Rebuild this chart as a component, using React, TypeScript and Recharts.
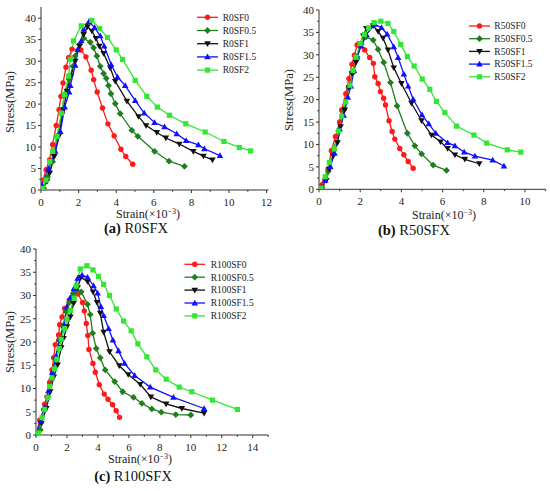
import React from 'react';
import { LineChart, Line, XAxis, YAxis } from 'recharts';

type Pt = [number, number];
type Shape = 'circle' | 'diamond' | 'down' | 'up' | 'square';

// ---- (a) R0SFX ----
const R0SF0: Pt[] = [[0,0],[0.1,2.3],[0.27,4.7],[0.45,7.0],[0.62,10.6],[0.81,15.0],[0.96,18.7],[1.06,21.8],[1.17,24.9],[1.33,28.6],[1.47,30.8],[1.65,32.8],[2.12,32.6],[2.39,31.0],[2.67,27.9],[2.8,25.7],[2.99,22.8],[3.27,19.1],[3.56,15.4],[3.89,12.6],[4.25,9.5],[4.51,7.8],[4.88,6.0]];
const R0SF05: Pt[] = [[0,0],[0.14,0.4],[0.35,3.0],[0.62,6.6],[0.85,12.5],[1.12,17.9],[1.24,22.2],[1.5,25.7],[1.7,28.8],[1.82,31.2],[2.05,33.9],[2.27,35.3],[2.62,34.4],[2.8,33.1],[2.97,31.2],[3.15,28.8],[3.33,27.1],[3.47,26.0],[3.59,24.3],[3.72,22.4],[3.95,20.1],[4.21,17.8],[4.83,13.9],[5.15,12.5],[6.04,9.0],[6.81,6.7],[7.63,5.5]];
const R0SF1: Pt[] = [[0,0],[0.32,2.0],[0.46,3.9],[0.71,7.8],[0.94,12.5],[1.2,18.7],[1.38,23.0],[1.59,26.5],[1.82,30.0],[2.05,33.5],[2.27,36.2],[2.48,38.0],[2.71,37.0],[2.92,35.3],[3.1,33.5],[3.33,31.8],[3.68,28.4],[3.95,25.3],[4.57,20.7],[5.19,17.1],[5.59,15.0],[6.16,13.4],[6.64,12.1],[7.36,10.7],[8.1,9.0],[8.64,7.9],[9.12,7.0]];
const R0SF15: Pt[] = [[0,0],[0.05,1.2],[0.4,5.0],[0.76,9.0],[1.03,13.6],[1.26,19.3],[1.5,22.8],[1.56,24.3],[1.82,29.0],[1.95,32.7],[2.14,34.7],[2.27,37.4],[2.55,39.2],[2.85,37.8],[3.15,35.9],[3.36,33.5],[3.73,29.2],[4.07,26.3],[4.48,24.3],[5.01,20.8],[5.49,17.9],[6.04,15.7],[6.57,14.7],[7.22,13.1],[7.72,11.5],[8.37,10.5],[8.69,9.6],[9.52,8.0]];
const R0SF2: Pt[] = [[0,0],[0.09,0.4],[0.27,2.3],[0.46,6.6],[0.62,9.0],[0.85,12.5],[1.08,17.9],[1.24,22.2],[1.47,26.5],[1.56,30.4],[1.73,34.7],[2.14,38.2],[2.7,39.5],[3.12,37.6],[3.54,35.5],[4.0,32.6],[4.34,30.4],[5.01,25.5],[5.63,21.8],[6.19,19.3],[6.83,17.4],[7.7,15.4],[8.73,13.5],[9.73,11.3],[10.55,9.9],[11.15,9.1]];

// ---- (b) R50SFX ----
const R50SF0: Pt[] = [[0,0],[0.15,1.0],[0.28,2.1],[0.44,4.5],[0.6,8.6],[0.8,11.8],[1.0,15.0],[1.1,17.7],[1.3,21.3],[1.45,24.7],[1.6,27.9],[1.72,29.9],[1.85,32.2],[2.22,31.1],[2.46,29.4],[2.64,28.1],[2.71,25.1],[2.87,23.6],[2.98,21.8],[3.14,20.3],[3.23,18.8],[3.4,15.3],[3.55,12.9],[3.68,11.2],[3.92,9.1],[4.12,7.7],[4.33,6.2],[4.57,4.7]];
const R50SF05: Pt[] = [[0,0],[0.15,0.4],[0.45,4.0],[0.7,8.8],[0.95,13.0],[1.2,17.8],[1.45,22.7],[1.65,26.0],[1.85,29.5],[2.05,32.4],[2.29,34.0],[2.63,33.3],[2.87,31.2],[3.14,28.3],[3.47,23.8],[3.79,18.6],[4.29,12.5],[4.65,9.7],[4.98,7.9],[5.54,5.4],[6.19,4.2]];
const R50SF1: Pt[] = [[0,0],[0.1,0.5],[0.35,2.0],[0.5,4.5],[0.7,7.5],[0.9,10.4],[1.05,14.0],[1.25,17.7],[1.45,22.7],[1.6,25.8],[1.8,28.3],[2.0,32.5],[2.15,34.2],[2.3,35.9],[2.63,36.5],[2.87,35.2],[3.11,33.7],[3.35,31.1],[3.63,27.1],[4.0,23.6],[4.49,19.2],[4.98,15.3],[5.46,12.1],[5.9,10.6],[6.24,9.1],[6.6,7.7],[7.08,6.7],[7.78,5.7]];
const R50SF15: Pt[] = [[0,0],[0.3,2.0],[0.55,5.0],[0.75,8.0],[1.0,13.5],[1.2,16.5],[1.4,20.5],[1.55,23.0],[1.7,26.5],[1.85,29.5],[2.05,32.0],[2.3,34.5],[2.7,36.8],[3.03,36.1],[3.31,34.6],[3.63,31.8],[3.84,29.4],[4.12,25.7],[4.33,23.0],[4.57,20.1],[5.0,16.6],[5.33,14.6],[5.67,12.5],[6.24,10.4],[6.6,9.7],[7.05,8.3],[7.57,7.4],[8.43,6.5],[8.98,5.2]];
const R50SF2: Pt[] = [[0,0],[0.1,0.3],[0.3,2.8],[0.5,6.0],[0.75,9.0],[0.95,13.0],[1.1,16.2],[1.3,19.5],[1.5,23.2],[1.65,26.5],[1.8,29.5],[2.0,32.5],[2.2,34.5],[2.4,36.0],[2.67,37.2],[3.0,37.5],[3.35,37.0],[3.63,35.2],[3.97,32.3],[4.29,29.6],[4.62,27.5],[5.01,24.6],[5.38,22.3],[5.7,19.6],[6.11,17.1],[6.68,14.1],[7.52,12.1],[8.14,10.3],[9.14,8.8],[9.79,8.3]];

// ---- (c) R100SFX ----
const R100SF0: Pt[] = [[0,0],[0.24,3.2],[0.5,5.5],[0.56,6.6],[0.71,8.2],[0.88,11.3],[1.03,14.0],[1.14,16.6],[1.25,19.4],[1.46,21.5],[1.53,23.7],[1.68,25.4],[1.85,27.2],[2.15,29.0],[2.71,30.3],[3.01,28.5],[3.12,26.7],[3.25,24.0],[3.35,21.4],[3.42,18.4],[3.68,15.4],[3.83,13.5],[4.09,10.8],[4.41,8.8],[4.65,7.7],[4.95,6.5],[5.18,5.2],[5.4,3.8]];
const R100SF05: Pt[] = [[0,0],[0.28,1.1],[0.54,5.4],[0.77,8.2],[1.0,12.0],[1.25,16.5],[1.5,20.5],[1.75,23.5],[1.95,26.5],[2.15,28.5],[2.4,30.5],[2.6,31.2],[2.92,30.8],[3.33,28.1],[3.5,25.9],[3.66,21.9],[3.89,18.6],[4.15,16.6],[4.47,14.0],[5.08,11.5],[5.6,9.3],[6.3,8.1],[6.84,6.8],[7.48,5.6],[8.09,4.9],[9.03,4.4],[10.0,4.3]];
const R100SF1: Pt[] = [[0,0],[0.35,2.5],[0.67,5.7],[0.92,9.3],[1.15,12.5],[1.4,15.1],[1.63,18.8],[1.78,20.8],[2.0,23.3],[2.22,25.4],[2.43,28.3],[2.69,31.7],[2.9,33.9],[3.33,33.0],[3.68,30.8],[3.94,28.5],[4.15,26.2],[4.37,22.1],[4.75,17.9],[5.38,14.9],[5.96,13.0],[6.73,10.9],[7.42,8.2],[8.41,6.7],[9.42,5.7],[10.86,4.7]];
const R100SF15: Pt[] = [[0,0],[0.3,3.0],[0.55,6.0],[0.8,9.5],[1.05,13.5],[1.3,17.0],[1.55,20.5],[1.8,23.5],[2.0,27.5],[2.2,29.5],[2.45,31.5],[2.69,33.7],[2.97,34.4],[3.33,33.9],[3.72,32.1],[3.98,30.5],[4.19,27.6],[4.37,25.7],[4.69,22.9],[4.97,20.4],[5.33,18.1],[5.72,15.4],[6.37,12.8],[7.38,10.3],[8.88,8.1],[10.86,5.7]];
const R100SF2: Pt[] = [[0,0],[0.17,0.4],[0.39,3.7],[0.56,5.5],[0.77,8.0],[0.88,10.4],[1.03,12.3],[1.2,14.2],[1.35,16.3],[1.5,18.6],[1.63,20.6],[1.85,22.9],[2.0,24.9],[2.22,26.8],[2.47,29.4],[2.6,32.0],[2.86,35.7],[3.29,36.4],[3.68,35.5],[4.04,34.1],[4.37,32.4],[4.75,30.0],[5.18,27.1],[5.66,24.5],[6.15,22.4],[6.58,19.6],[7.16,16.8],[7.74,14.0],[8.41,12.0],[9.25,10.3],[10.06,9.3],[11.4,7.5],[13.01,5.5]];

const STYLES: { color: string; shape: Shape }[] = [
  { color: '#ff1a1a', shape: 'circle' },
  { color: '#1f7f1f', shape: 'diamond' },
  { color: '#111111', shape: 'down' },
  { color: '#1010ff', shape: 'up' },
  { color: '#33e633', shape: 'square' },
];

const FONT = '"Liberation Serif", "Times New Roman", serif';
const AXIS = '#333';

function Marker({ cx, cy, shape, color }: { cx?: number; cy?: number; shape: Shape; color: string }) {
  if (cx == null || cy == null) return null;
  switch (shape) {
    case 'circle':
      return <circle cx={cx} cy={cy} r={2.7} fill={color} />;
    case 'diamond': {
      const s = 3.4;
      return <polygon points={`${cx},${cy - s} ${cx + s},${cy} ${cx},${cy + s} ${cx - s},${cy}`} fill={color} />;
    }
    case 'down':
      return <polygon points={`${cx - 3.3},${cy - 2.4} ${cx + 3.3},${cy - 2.4} ${cx},${cy + 3.3}`} fill={color} />;
    case 'up':
      return <polygon points={`${cx - 3.3},${cy + 2.4} ${cx + 3.3},${cy + 2.4} ${cx},${cy - 3.3}`} fill={color} />;
    default:
      return <rect x={cx - 2.6} y={cy - 2.6} width={5.2} height={5.2} fill={color} />;
  }
}

function XTick({ x, y, payload, major }: any) {
  const isMajor = payload.value % major === 0;
  return (
    <g>
      <line x1={x} x2={x} y1={y} y2={y + (isMajor ? 3 : 1.8)} stroke={AXIS} />
      {isMajor && (
        <text x={x} y={y + 15.5} textAnchor="middle" fontSize={11} fontFamily={FONT} fill="#222">
          {payload.value}
        </text>
      )}
    </g>
  );
}

function YTick({ x, y, payload, major }: any) {
  const isMajor = payload.value % major === 0;
  return (
    <g>
      <line x1={x} x2={x - (isMajor ? 3 : 1.8)} y1={y} y2={y} stroke={AXIS} />
      {isMajor && (
        <text x={x - 5} y={y + 3.8} textAnchor="end" fontSize={11} fontFamily={FONT} fill="#222">
          {payload.value}
        </text>
      )}
    </g>
  );
}

interface PanelProps {
  left: number;
  top: number;
  height: number;
  margin: { top: number; right: number; bottom: number; left: number };
  yWidth: number;
  xMax: number;
  yMax: number;
  xTicks: number[];
  series: { name: string; data: Pt[] }[];
}

const Y_TICKS = [0, 2.5, 5, 7.5, 10, 12.5, 15, 17.5, 20, 22.5, 25, 27.5, 30, 32.5, 35, 37.5, 40];

function Panel({ left, top, height, margin, yWidth, xMax, yMax, xTicks, series }: PanelProps) {
  return (
    <div style={{ position: 'absolute', left, top }}>
      <LineChart width={275} height={height} margin={margin}>
        <XAxis
          type="number" dataKey="x" domain={[0, xMax]} ticks={xTicks} interval={0}
          allowDataOverflow height={31} tickSize={0} tickMargin={0} tickLine={false}
          axisLine={{ stroke: AXIS }} tick={(p: any) => <XTick {...p} major={2} />}
        />
        <YAxis
          type="number" domain={[0, yMax]} ticks={Y_TICKS} interval={0}
          allowDataOverflow width={yWidth} tickSize={0} tickMargin={0} tickLine={false}
          axisLine={{ stroke: AXIS }} tick={(p: any) => <YTick {...p} major={5} />}
        />
        <XAxis xAxisId="top" orientation="top" type="number" domain={[0, xMax]} height={0} tick={false} tickLine={false} axisLine={{ stroke: AXIS }} />
        <YAxis yAxisId="right" orientation="right" type="number" domain={[0, yMax]} width={0} tick={false} tickLine={false} axisLine={{ stroke: AXIS }} />
        {series.map((s, i) => (
          <Line
            key={s.name}
            name={s.name}
            data={s.data.map(([x, y]) => ({ x, y }))}
            dataKey="y"
            type="linear"
            stroke={STYLES[i].color}
            strokeWidth={1.3}
            isAnimationActive={false}
            dot={(p: any) => <Marker key={p.index} cx={p.cx} cy={p.cy} shape={STYLES[i].shape} color={STYLES[i].color} />}
            activeDot={false}
          />
        ))}
      </LineChart>
    </div>
  );
}

function Legend({ x1, x2, tx, y0, step, names }: { x1: number; x2: number; tx: number; y0: number; step: number; names: string[] }) {
  return (
    <g>
      {names.map((n, i) => {
        const y = y0 + i * step;
        const st = STYLES[i];
        return (
          <g key={n}>
            <line x1={x1} x2={x2} y1={y} y2={y} stroke={st.color} strokeWidth={1.3} />
            <Marker cx={(x1 + x2) / 2} cy={y} shape={st.shape} color={st.color} />
            <text x={tx} y={y + 3.3} fontSize={9.5} fontFamily={FONT} fill="#222">{n}</text>
          </g>
        );
      })}
    </g>
  );
}

function StrainLabel({ x, y }: { x: number; y: number }) {
  return (
    <text x={x} y={y + 4} textAnchor="middle" fontSize={12} fontFamily={FONT} fill="#222">
      Strain(×10<tspan dy={-4.5} fontSize={8}>−3</tspan><tspan dy={4.5}>)</tspan>
    </text>
  );
}

function StressLabel({ x, y }: { x: number; y: number }) {
  return (
    <text x={x} y={y} dy="0.35em" textAnchor="middle" fontSize={12.5} fontFamily={FONT} fill="#222" transform={`rotate(-90, ${x}, ${y})`}>
      Stress(MPa)
    </text>
  );
}

function Caption({ x, y, tag, name }: { x: number; y: number; tag: string; name: string }) {
  return (
    <text x={x} y={y + 5} textAnchor="middle" fontSize={14.5} fontFamily={FONT} fill="#111">
      <tspan fontWeight="bold">{tag}</tspan> {name}
    </text>
  );
}

const NAMES_A = ['R0SF0', 'R0SF0.5', 'R0SF1', 'R0SF1.5', 'R0SF2'];
const NAMES_B = ['R50SF0', 'R50SF0.5', 'R50SF1', 'R50SF1.5', 'R50SF2'];
const NAMES_C = ['R100SF0', 'R100SF0.5', 'R100SF1', 'R100SF1.5', 'R100SF2'];

export default function App() {
  const dataA = [R0SF0, R0SF05, R0SF1, R0SF15, R0SF2];
  const dataB = [R50SF0, R50SF05, R50SF1, R50SF15, R50SF2];
  const dataC = [R100SF0, R100SF05, R100SF1, R100SF15, R100SF2];
  return (
    <div style={{ position: 'absolute', left: 0, top: 0, width: 550, height: 491, background: '#fff' }}>
      <Panel
        left={0} top={0} height={235} margin={{ top: 7, right: 6.5, bottom: 14, left: 0 }} yWidth={41}
        xMax={12.1} yMax={42.6} xTicks={[0,1,2,3,4,5,6,7,8,9,10,11,12]}
        series={NAMES_A.map((name, i) => ({ name, data: dataA[i] }))}
      />
      <Panel
        left={275} top={0} height={235} margin={{ top: 10, right: 4.4, bottom: 14.7, left: 0 }} yWidth={44}
        xMax={11} yMax={40} xTicks={[0,1,2,3,4,5,6,7,8,9,10,11]}
        series={NAMES_B.map((name, i) => ({ name, data: dataB[i] }))}
      />
      <Panel
        left={0} top={235} height={245} margin={{ top: 14, right: 6.8, bottom: 14, left: 0 }} yWidth={36}
        xMax={15} yMax={40} xTicks={[0,1,2,3,4,5,6,7,8,9,10,11,12,13,14,15]}
        series={NAMES_C.map((name, i) => ({ name, data: dataC[i] }))}
      />
      <svg width={550} height={491} style={{ position: 'absolute', left: 0, top: 0, pointerEvents: 'none' }}>
        <Legend x1={197} x2={218} tx={222.7} y0={17.3} step={13.2} names={NAMES_A} />
        <Legend x1={469} x2={490} tx={494.3} y0={26} step={12.7} names={NAMES_B} />
        <Legend x1={184.5} x2={205} tx={210.7} y0={264.3} step={12.9} names={NAMES_C} />
        <StressLabel x={9.5} y={102} />
        <StressLabel x={288.3} y={100} />
        <StressLabel x={10} y={342} />
        <StrainLabel x={148} y={214} />
        <StrainLabel x={444} y={215} />
        <StrainLabel x={140} y={459} />
        <Caption x={136} y={228} tag="(a)" name="R0SFX" />
        <Caption x={414} y={230} tag="(b)" name="R50SFX" />
        <Caption x={133} y={476} tag="(c)" name="R100SFX" />
      </svg>
    </div>
  );
}
